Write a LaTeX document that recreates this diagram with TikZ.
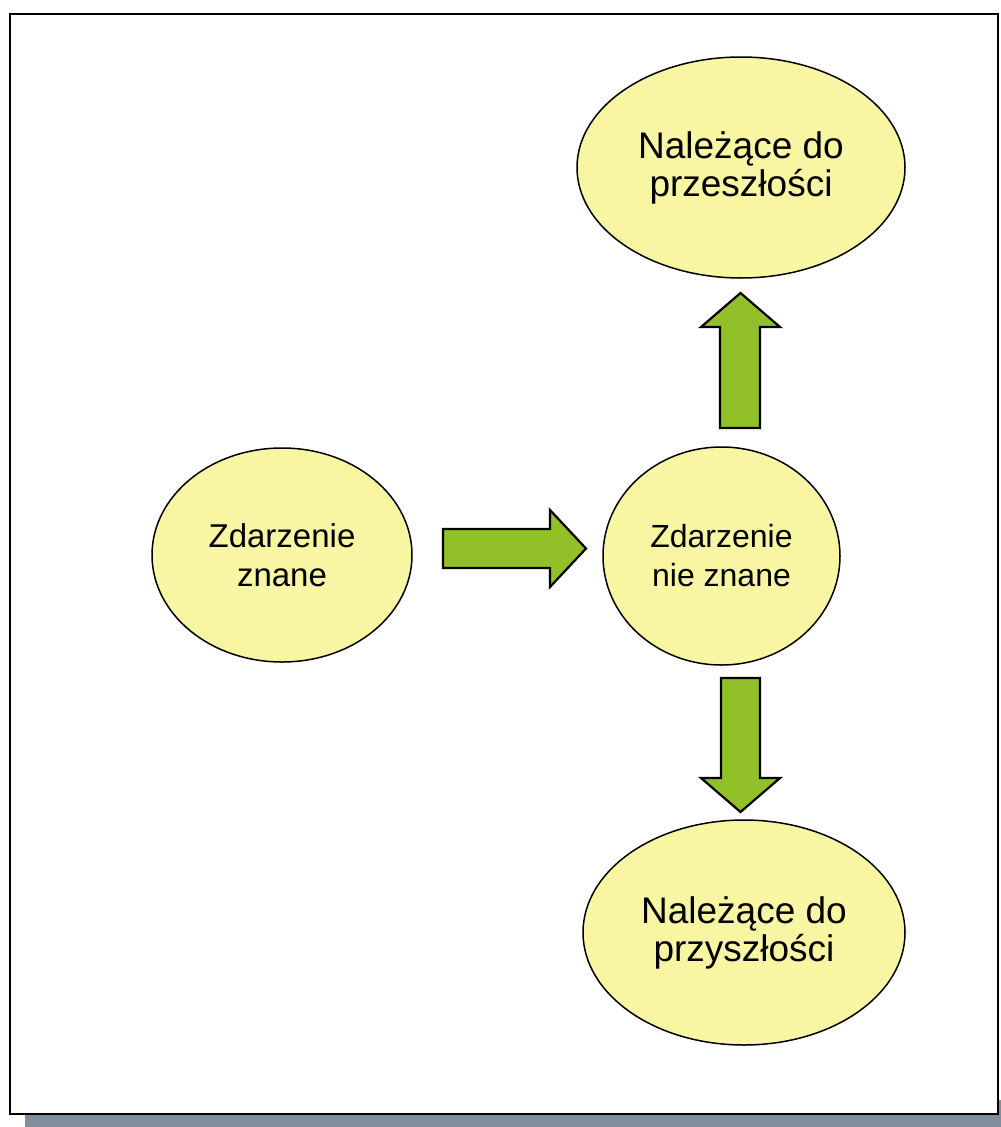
\documentclass[tikz,border=0pt]{standalone}
\usepackage{fontspec}
\setmainfont{Liberation Sans}
\usetikzlibrary{shapes.geometric}
\definecolor{ellfill}{RGB}{248,246,162}
\definecolor{arrgreen}{RGB}{146,192,40}
\definecolor{shadowc}{RGB}{128,142,156}
\tikzset{
  bubble/.style={ellipse, draw=black, line width=1.5pt, fill=ellfill, inner sep=0pt,
    align=center},
  blockarrow/.style={draw=black, line width=2.2pt, fill=arrgreen, line join=miter},
  frame/.style={draw=black, line width=2.4pt, fill=white}
}
\begin{document}
\begin{tikzpicture}[x=1pt,y=-1pt]
\useasboundingbox (0,0) rectangle (1001,1127);
\fill[white] (0,0) rectangle (1001,1127);
% shadow
\fill[shadowc] (25,1100) rectangle (1001,1127);
% frame
\draw[frame] (10,14) rectangle (998,1114);
% ellipses
\node[bubble, minimum width=260pt, minimum height=214pt, font=\fontsize{33}{39}\selectfont] (known) at (282,555) {Zdarzenie\\znane};
\node[bubble, minimum width=237pt, minimum height=218pt, font=\fontsize{32}{39}\selectfont] (unknown) at (721.5,556) {Zdarzenie\\nie znane};
\node[bubble, minimum width=328pt, minimum height=221pt, font=\fontsize{37}{38}\selectfont] (past) at (741,167.5) {Należące do\\przeszłości};
\node[bubble, minimum width=322pt, minimum height=225pt, font=\fontsize{37}{38}\selectfont] (future) at (744,932.5) {Należące do\\przyszłości};
% block arrows
\draw[blockarrow] (443,529) -- (550,529) -- (550,510) -- (586,548.5) -- (550,587) -- (550,568) -- (443,568) -- cycle;
\draw[blockarrow] (720,428) -- (720,327) -- (701,327) -- (740.5,293) -- (780,327) -- (760,327) -- (760,428) -- cycle;
\draw[blockarrow] (721,678) -- (760,678) -- (760,778) -- (780,778) -- (740.5,812) -- (701,778) -- (721,778) -- cycle;
\end{tikzpicture}
\end{document}
